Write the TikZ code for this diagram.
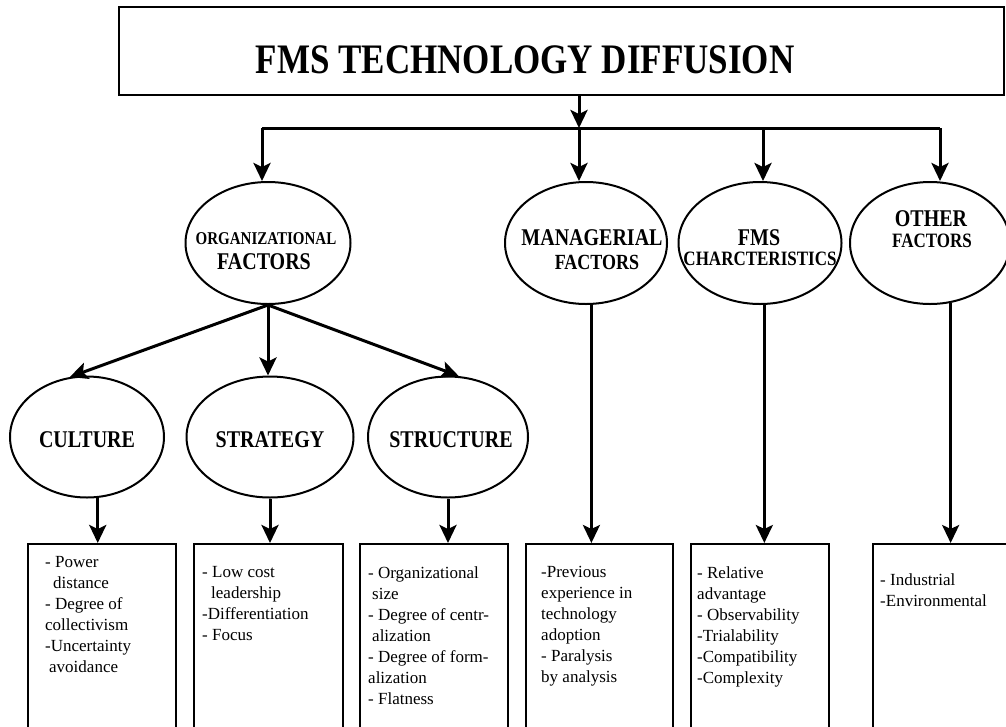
\documentclass[tikz,border=0pt]{standalone}
\usepackage{fontspec}
\setmainfont{Liberation Serif}
\usetikzlibrary{arrows.meta,shapes.geometric}

% tall bold capitals for the headings
\newcommand{\tallcaps}[2]{\scalebox{1}[1.2]{\fontsize{#1}{#1}\selectfont\bfseries #2}}

\tikzset{
  ln/.style={line width=3pt},
  arr/.style={line width=3pt, -{Stealth[length=18pt,width=17pt,inset=4pt]}},
  oval/.style={draw, line width=2pt, ellipse, inner sep=0pt},
  frame/.style={draw, line width=2pt, rectangle, inner sep=0pt, anchor=north west},
  hd/.style={inner sep=0pt},
  items/.style={inner sep=0pt, anchor=north west, align=left,
                font=\fontsize{17}{21}\selectfont}
}

\begin{document}
\begin{tikzpicture}[x=1pt, y=-1pt]
\useasboundingbox (0,0) rectangle (1006,726);
\clip (0,0) rectangle (1006,726);

% title
\node[frame, minimum width=885, minimum height=88] (top) at (118,6) {};
\node[hd] (ttl) at (525,60) {\tallcaps{35}{FMS TECHNOLOGY DIFFUSION}};

% first level
\node[oval, minimum width=165, minimum height=122] (org) at (268,243) {};
\node[oval, minimum width=162, minimum height=122] (man) at (586,243) {};
\node[oval, minimum width=163, minimum height=122] (fms) at (760,243) {};
\node[oval, minimum width=160, minimum height=122] (oth) at (930,243) {};

\node[hd] (orgA) at (266,239) {\tallcaps{15}{ORGANIZATIONAL}};
\node[hd] (orgB) at (264,262) {\tallcaps{20}{FACTORS}};
\node[hd] (manA) at (592,238) {\tallcaps{20}{MANAGERIAL}};
\node[hd] (manB) at (597,262) {\tallcaps{18}{FACTORS}};
\node[hd] (fmsA) at (759,238) {\tallcaps{20}{FMS}};
\node[hd] (fmsB) at (760,259) {\tallcaps{17}{CHARCTERISTICS}};
\node[hd] (othA) at (931,219) {\tallcaps{20}{OTHER}};
\node[hd] (othB) at (932,241) {\tallcaps{17}{FACTORS}};

% second level under the organizational factors
\node[oval, minimum width=154, minimum height=121] (cul) at (87,437) {};
\node[oval, minimum width=167, minimum height=121] (str) at (270,437) {};
\node[oval, minimum width=160, minimum height=121] (stc) at (448,437) {};
\node[hd] (culT) at (87,440) {\tallcaps{20}{CULTURE}};
\node[hd] (strT) at (270,440) {\tallcaps{20}{STRATEGY}};
\node[hd] (stcT) at (451,440) {\tallcaps{20}{STRUCTURE}};

% item boxes (open at the bottom edge of the page)
\node[frame, minimum width=148, minimum height=200] (b1) at (27,543) {};
\node[frame, minimum width=149, minimum height=200] (b2) at (193,543) {};
\node[frame, minimum width=148, minimum height=200] (b3) at (359,543) {};
\node[frame, minimum width=147, minimum height=200] (b4) at (525,543) {};
\node[frame, minimum width=138, minimum height=200] (b5) at (690,543) {};
\node[frame, minimum width=150, minimum height=200] (b6) at (872,543) {};

\node[items] (t1) at (45,556.5) {- Power\\\hspace*{8pt}distance\\- Degree of\\collectivism\\-Uncertainty\\\hspace*{4pt}avoidance};
\node[items] (t2) at (202,566.5) {- Low cost\\\hspace*{9pt}leadership\\-Differentiation\\- Focus};
\node[items] (t3) at (368,566.5) {- Organizational\\\hspace*{4pt}size\\- Degree of centr-\\\hspace*{4pt}alization\\- Degree of form-\\alization\\- Flatness};
\node[items] (t4) at (541,566.5) {-Previous\\experience in\\technology\\adoption\\- Paralysis\\by analysis};
\node[items] (t5) at (697,566.5) {- Relative\\advantage\\- Observability\\-Trialability\\-Compatibility\\-Complexity};
\node[items] (t6) at (880,573.5) {- Industrial\\-Environmental};

% distribution bar
\coordinate (hub) at (579,128);
\coordinate (jorg) at (262,128);
\coordinate (joth) at (940,128);
\coordinate (jfms) at (763,128);

\draw[arr] (top.south -| hub) -- (hub);
\draw[ln] (jorg) -- (joth);
\draw[arr] (jorg) -- (jorg |- org.north);
\draw[arr] (hub) -- (hub |- man.north);
\draw[arr] (jfms) -- (jfms |- fms.north);
\draw[arr] (joth) -- (joth |- oth.north);

% organizational factors split
\draw[arr] (org.south) -- (cul.106);
\draw[arr] (org.south) -- (org.south |- str.north);
\draw[arr] (org.south) -- (stc.80);

% links down to the item boxes
\draw[arr] (cul.-80) -- (cul.-80 |- b1.north);
\draw[arr] (str.south) -- (str.south |- b2.north);
\draw[arr] (stc.south) -- (stc.south |- b3.north);
\draw[arr] (man.-85) -- (man.-85 |- b4.north);
\draw[arr] (fms.-86) -- (fms.-86 |- b5.north);
\draw[arr] (oth.-71) -- (oth.-71 |- b6.north);
\end{tikzpicture}
\end{document}
